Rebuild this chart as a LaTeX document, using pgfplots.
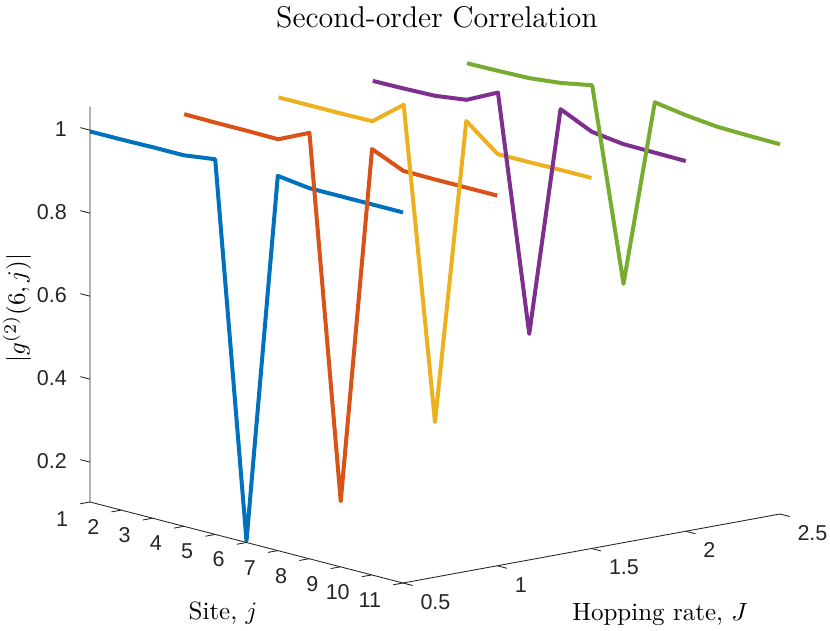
\documentclass[border=0pt]{standalone}
\usepackage{fontspec}
\newfontfamily\arial{Liberation Sans}
\usepackage{pgfplots}
\pgfplotsset{compat=1.18}
\definecolor{mblue}{rgb}{0,0.447,0.741}
\definecolor{mred}{rgb}{0.85,0.325,0.098}
\definecolor{myellow}{rgb}{0.929,0.694,0.125}
\definecolor{mpurple}{rgb}{0.494,0.184,0.556}
\definecolor{mgreen}{rgb}{0.466,0.674,0.188}
\definecolor{axc}{rgb}{0.15,0.15,0.15}
\tikzset{tl/.style={font=\arial\fontsize{8.6}{10}\selectfont, text=axc, inner sep=0pt}}
\begin{document}
\begin{tikzpicture}
\begin{axis}[
  x={(12.52pt,-3.24pt)}, y={(75.4pt,13.8pt)}, z={(0pt,166pt)},
  xmin=1,xmax=11,ymin=0.5,ymax=2.5,zmin=0.104,zmax=1.057,
  xtick=\empty, ytick=\empty, ztick=\empty,
  axis line style={draw=none},
  clip=false,
  every axis plot/.append style={line width=1.6pt, line join=round},
]
\addplot3[mblue] coordinates {(1,0.5,0.997) (2,0.5,0.997) (3,0.5,0.998) (4,0.5,0.998) (5,0.5,1.008) (6,0.5,0.108) (7,0.5,1.007) (8,0.5,0.997) (9,0.5,0.997) (10,0.5,0.997) (11,0.5,0.997)};
\addplot3[mred] coordinates {(1,1,0.997) (2,1,0.996) (3,1,0.996) (4,1,0.995) (5,1,1.030) (6,1,0.162) (7,1,1.030) (8,1,0.997) (9,1,0.996) (10,1,0.996) (11,1,0.996)};
\addplot3[myellow] coordinates {(1,1.5,0.996) (2,1.5,0.996) (3,1.5,0.996) (4,1.5,0.997) (5,1.5,1.056) (6,1.5,0.311) (7,1.5,1.056) (8,1.5,0.996) (9,1.5,0.996) (10,1.5,0.997) (11,1.5,0.997)};
\addplot3[mpurple] coordinates {(1,2,0.994) (2,2,0.995) (3,2,0.997) (4,2,1.007) (5,2,1.044) (6,2,0.482) (7,2,1.043) (8,2,1.008) (9,2,0.998) (10,2,0.997) (11,2,0.996)};
\addplot3[mgreen] coordinates {(1,2.5,0.995) (2,2.5,0.996) (3,2.5,0.998) (4,2.5,1.006) (5,2.5,1.020) (6,2.5,0.561) (7,2.5,1.018) (8,2.5,1.006) (9,2.5,0.998) (10,2.5,0.996) (11,2.5,0.995)};
\draw[axc, line width=0.35pt] (axis cs:1,0.5,1.057) -- (axis cs:1,0.5,0.104) -- (axis cs:11,0.5,0.104) -- (axis cs:11,2.5,0.104);
\pgfplotsinvokeforeach{1,2,3,4,5,6,7,8,9,10,11}{
  \draw[axc, line width=0.35pt] (axis cs:#1,0.5,0.104) -- (axis cs:#1,0.448,0.104);
  \node[tl, anchor=east, xshift=-8.6pt, yshift=-6.8pt] at (axis cs:#1,0.5,0.104) {#1};
}
\pgfplotsinvokeforeach{0.5,1,1.5,2,2.5}{
  \draw[axc, line width=0.35pt] (axis cs:11,#1,0.104) -- (axis cs:11.31,#1,0.104);
  \node[tl, anchor=west, xshift=6.8pt, yshift=-7.6pt] at (axis cs:11,#1,0.104) {#1};
}
\pgfplotsinvokeforeach{0.2,0.4,0.6,0.8,1}{
  \draw[axc, line width=0.35pt] (axis cs:1,0.5,#1) -- (axis cs:0.69,0.5,#1);
  \node[tl, anchor=east, xshift=-9.1pt, yshift=0.5pt] at (axis cs:1,0.5,#1) {#1};
}
\coordinate (c) at (axis cs:1,0.5,0.104);
\end{axis}
\node[font=\fontsize{12}{14}\selectfont] at ([shift={(138.8pt,194pt)}]c) {Second-order Correlation};
\node[rotate=90, font=\fontsize{10}{12}\selectfont] at ([shift={(-29.2pt,77.6pt)}]c) {$|g^{(2)}(6,j)|$};
\node[font=\fontsize{10}{12}\selectfont] at ([shift={(53.2pt,-44.4pt)}]c) {Site, $j$};
\node[font=\fontsize{10}{12}\selectfont] at ([shift={(228pt,-45.2pt)}]c) {Hopping rate, $J$};
\pgfresetboundingbox
\path[use as bounding box] ([shift={(-36pt,-51.2pt)}]c) rectangle ++(332pt,252pt);
\end{tikzpicture}
\end{document}
